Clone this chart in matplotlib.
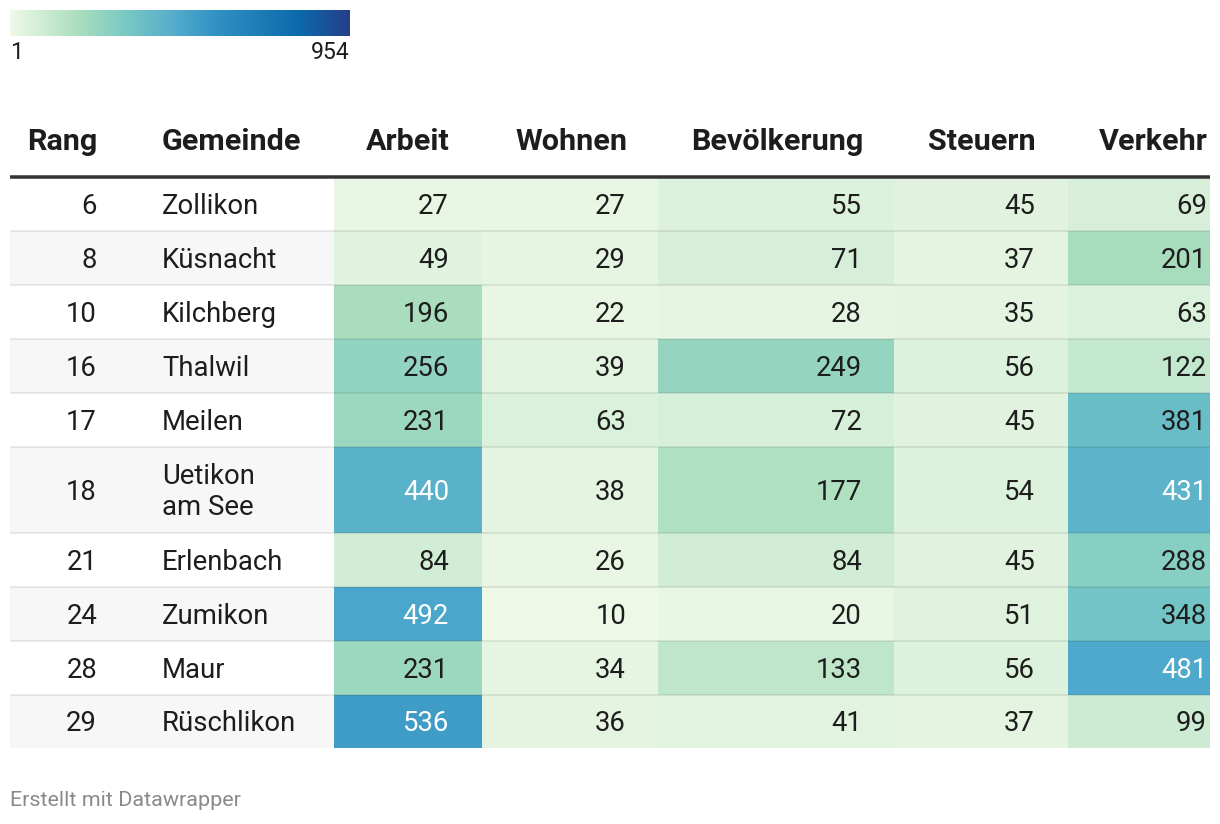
import numpy as np
import matplotlib
matplotlib.use("Agg")
import matplotlib.pyplot as plt
from matplotlib.colors import LinearSegmentedColormap, Normalize

# ---- data ----
rang = [6, 8, 10, 16, 17, 18, 21, 24, 28, 29]
gemeinde = ["Zollikon", "Küsnacht", "Kilchberg", "Thalwil", "Meilen",
            "Uetikon\nam See", "Erlenbach", "Zumikon", "Maur", "Rüschlikon"]
columns = ["Arbeit", "Wohnen", "Bevölkerung", "Steuern", "Verkehr"]
arbeit = [27, 49, 196, 256, 231, 440, 84, 492, 231, 536]
wohnen = [27, 29, 22, 39, 63, 38, 26, 10, 34, 36]
bevoelkerung = [55, 71, 28, 249, 72, 177, 84, 20, 133, 41]
steuern = [45, 37, 35, 56, 45, 54, 45, 51, 56, 37]
verkehr = [69, 201, 63, 122, 381, 431, 288, 348, 481, 99]
vmin, vmax = 1, 954

values = np.array([arbeit, wohnen, bevoelkerung, steuern, verkehr]).T

cmap = LinearSegmentedColormap.from_list("dw", [
    (0.0, "#f0f9e8"), (0.2, "#aadebd"), (0.33, "#7ccbc4"),
    (0.5, "#4fa9cc"), (0.62, "#2f8fc2"), (0.85, "#0c6aab"), (1.0, "#253e8a")])
norm = Normalize(vmin, vmax)

plt.rcParams['font.family'] = ['Roboto', 'DejaVu Sans']
W, H = 1220, 824
fig = plt.figure(figsize=(W / 100, H / 100), dpi=100)
ax = fig.add_axes([0, 0, 1, 1])
ax.set_xlim(0, W)
ax.set_ylim(H, 0)
ax.axis("off")

PX = 0.72  # points per pixel
dark = "#1d1d1d"

# legend
grad = np.linspace(0, 1, 256)[None, :]
ax.imshow(grad, cmap=cmap, extent=[10, 350, 36, 10], aspect="auto")
ax.text(10, 52, str(vmin), fontsize=23 * PX, color=dark, va="center", ha="left")
ax.text(350, 52, str(vmax), fontsize=23 * PX, color=dark, va="center", ha="right")

# geometry
x_left, x_right = 10, 1210
col_edges = [334, 482, 658, 894, 1068, 1210]
col_text_right = [449, 626, 862, 1035, 1207]
row_h = [53, 54, 54, 54, 54, 86, 54, 54, 54, 53]
y_edges = [178]
for h in row_h:
    y_edges.append(y_edges[-1] + h)

# header
hdr_y = 141.5
hfs = 30.5 * PX
ax.text(97, hdr_y, "Rang", fontsize=hfs, weight="bold", color=dark, ha="right", va="center")
ax.text(162, hdr_y, "Gemeinde", fontsize=hfs, weight="bold", color=dark, ha="left", va="center")
for c, xr in zip(columns, col_text_right):
    ax.text(xr + 1, hdr_y, c, fontsize=hfs, weight="bold", color=dark, ha="right", va="center")

# striped background
for i in range(len(rang)):
    if i % 2 == 1:
        ax.add_patch(plt.Rectangle((x_left, y_edges[i]), x_right - x_left, row_h[i],
                                   facecolor="#f7f7f7", edgecolor="none", zorder=0))

# heatmap cells
ax.pcolormesh(col_edges, y_edges, values, cmap=cmap, norm=norm, zorder=1, shading="flat")

# row separators
for y in y_edges[1:-1]:
    ax.plot([x_left, x_right], [y, y], color="black", alpha=0.08, lw=2 * PX, zorder=2,
            solid_capstyle="butt")

# header rule
ax.plot([x_left, x_right], [176.5, 176.5], color="#333333", lw=3.5 * PX, zorder=3,
        solid_capstyle="butt")

# body text
bfs = 27.5 * PX
for i in range(len(rang)):
    yc = (y_edges[i] + y_edges[i + 1]) / 2 + 2
    ax.text(97, yc, str(rang[i]), fontsize=bfs, color=dark, ha="right", va="center", zorder=4)
    ax.text(162, yc, gemeinde[i], fontsize=bfs, color=dark, ha="left", va="center",
            linespacing=1.2, zorder=4)
    for j, xr in enumerate(col_text_right):
        v = values[i, j]
        col = "white" if v >= 400 else dark
        ax.text(xr, yc, str(v), fontsize=bfs, color=col, ha="right", va="center", zorder=4)

ax.text(10, 801, "Erstellt mit Datawrapper", fontsize=21.5 * PX, color="#8a8a8a",
        ha="left", va="center")

fig.savefig("out.png", dpi=100)
